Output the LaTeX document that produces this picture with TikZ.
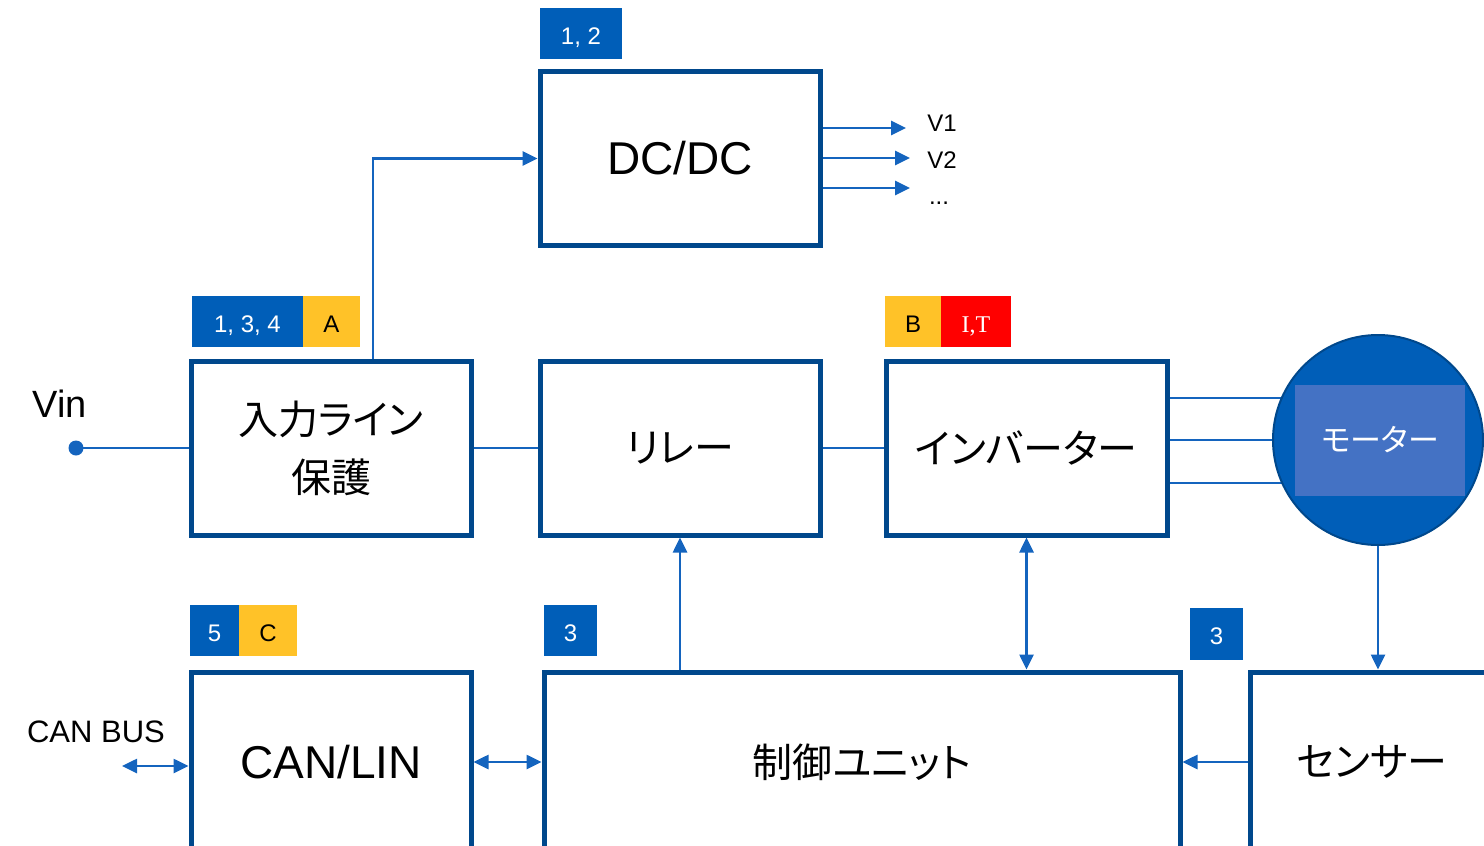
\documentclass[tikz,border=0pt]{standalone}
\usepackage{fontspec}
\setmainfont{Liberation Sans}
\newfontfamily\jp[RawFeature=+palt]{Noto Sans CJK JP}
\newfontfamily\tnr{Liberation Serif}
\usetikzlibrary{arrows.meta,backgrounds,calc}
\definecolor{boxblue}{RGB}{0,72,140}
\definecolor{lineblue}{RGB}{20,100,190}
\definecolor{badgeblue}{RGB}{0,94,184}
\definecolor{badgeyel}{RGB}{255,194,40}
\definecolor{motorin}{RGB}{68,114,196}
\begin{document}
\begin{tikzpicture}[x=1pt,y=-1pt,
 blk/.style={draw=boxblue,line width=5pt,fill=white,inner sep=0pt,minimum width=280pt,minimum height=174pt,align=center},
 conn/.style={draw=lineblue,line width=2.6pt},
 arr/.style={conn,-{Triangle[length=15pt,width=14pt]}},
 darr/.style={conn,{Triangle[length=15pt,width=14pt]}-{Triangle[length=15pt,width=14pt]}},
 badge/.style={fill=badgeblue,text=white,inner sep=0pt,minimum height=51pt,text height=21pt,text depth=0pt,font=\fontsize{24pt}{28pt}\selectfont},
 ybadge/.style={badge,fill=badgeyel,text=black},
 big/.style={font=\fontsize{46pt}{52pt}\selectfont},
 jtext/.style={font=\jp\fontsize{40pt}{58pt}\selectfont}]
\useasboundingbox (0,0) rectangle (1484,846);
\clip (0,0) rectangle (1484,846);
% blocks
\node[blk,big] (dcdc) at (680,158.5) {DC/DC};
\node[blk,jtext] (inp) at (331,448) {入力ライン\\保護};
\node[blk,jtext] (relay) at (680,448) {リレー};
\node[blk,jtext,minimum width=281pt] (inv) at (1026.5,448) {インバーター};
\node[blk,big,minimum height=180pt] (can) at (331,762) {CAN/LIN};
\node[blk,jtext,minimum width=636pt,minimum height=180pt] (ctrl) at (862,762) {制御ユニット};
\node[blk,jtext,minimum width=244pt,minimum height=180pt] (sens) at (1372,762) {センサー};
% motor
\node[circle,draw=boxblue,line width=2pt,fill=badgeblue,minimum size=210pt,inner sep=0pt] (motor) at (1378,440) {};
\node[fill=motorin,text=white,inner sep=0pt,minimum width=170pt,minimum height=111pt,font=\jp\fontsize{31pt}{36pt}\selectfont] (mlabel) at (1380,440) {モーター};
\begin{scope}[on background layer]
\draw[conn] ([yshift=50pt]inv.east) coordinate (m1) -- (m1 -| motor.center);
\draw[conn] ([yshift=8pt]inv.east) coordinate (m2) -- (m2 -| motor.center);
\draw[conn] ([yshift=-35pt]inv.east) coordinate (m3) -- (m3 -| motor.center);
\end{scope}
% Vin
\coordinate (vin) at (76,448);
\fill[lineblue] (vin) circle[radius=7.5pt];
\draw[conn] (vin) -- (inp.west);
\node[font=\fontsize{38pt}{44pt}\selectfont] (vinl) at (60,404) {Vin};
% DC/DC in & outputs
\draw[arr] ([xshift=42pt]inp.north) |- (dcdc.west);
\coordinate (v1e) at (906,128);
\coordinate (v2e) at (910,158);
\coordinate (v3e) at (910,188);
\draw[arr] (dcdc.east |- v1e) -- (v1e);
\draw[arr] (dcdc.east |- v2e) -- (v2e);
\draw[arr] (dcdc.east |- v3e) -- (v3e);
\node[font=\fontsize{24pt}{28pt}\selectfont] (v1) at (942,123) {V1};
\node[font=\fontsize{24pt}{28pt}\selectfont] (v2) at (942,160) {V2};
\node[font=\fontsize{24pt}{28pt}\selectfont] (vd) at (939,203) {...};
% badges
\node[badge,minimum width=82pt] (b12) at (581,33.5) {1, 2};
\node[badge,minimum width=111pt] (b134) at (247.5,321.5) {1, 3, 4};
\node[ybadge,minimum width=57pt] (bA) at (331.5,321.5) {A};
\node[ybadge,minimum width=56pt] (bB) at (913,321.5) {B};
\node[badge,fill=red,minimum width=70pt,font=\tnr\fontsize{24pt}{28pt}\selectfont] (bIT) at (976,321.5) {I,T};
\node[badge,minimum width=49pt] (b5) at (214.5,630.5) {5};
\node[ybadge,minimum width=58pt] (bC) at (268,630.5) {C};
\node[badge,minimum width=53pt] (b3a) at (570.5,630.5) {3};
\node[badge,minimum width=53pt,minimum height=52pt] (b3b) at (1216.5,634) {3};
% connectors
\draw[conn] (inp.east) -- (relay.west);
\draw[conn] (relay.east) -- (inv.west);
\draw[arr] (relay.south |- ctrl.north) -- (relay.south);
\draw[darr] (inv.south) -- (inv.south |- ctrl.north);
\draw[arr] (motor.south) -- (motor.south |- sens.north);
\draw[arr] (sens.west) -- (sens.west -| ctrl.east);
\draw[darr] (can.east) -- (can.east -| ctrl.west);
\coordinate (canbus) at (122,766);
\draw[darr] (canbus) -- (canbus -| can.west);
\node[font=\fontsize{31pt}{36pt}\selectfont] (canbusl) at (96,732) {CAN BUS};
\end{tikzpicture}
\end{document}
